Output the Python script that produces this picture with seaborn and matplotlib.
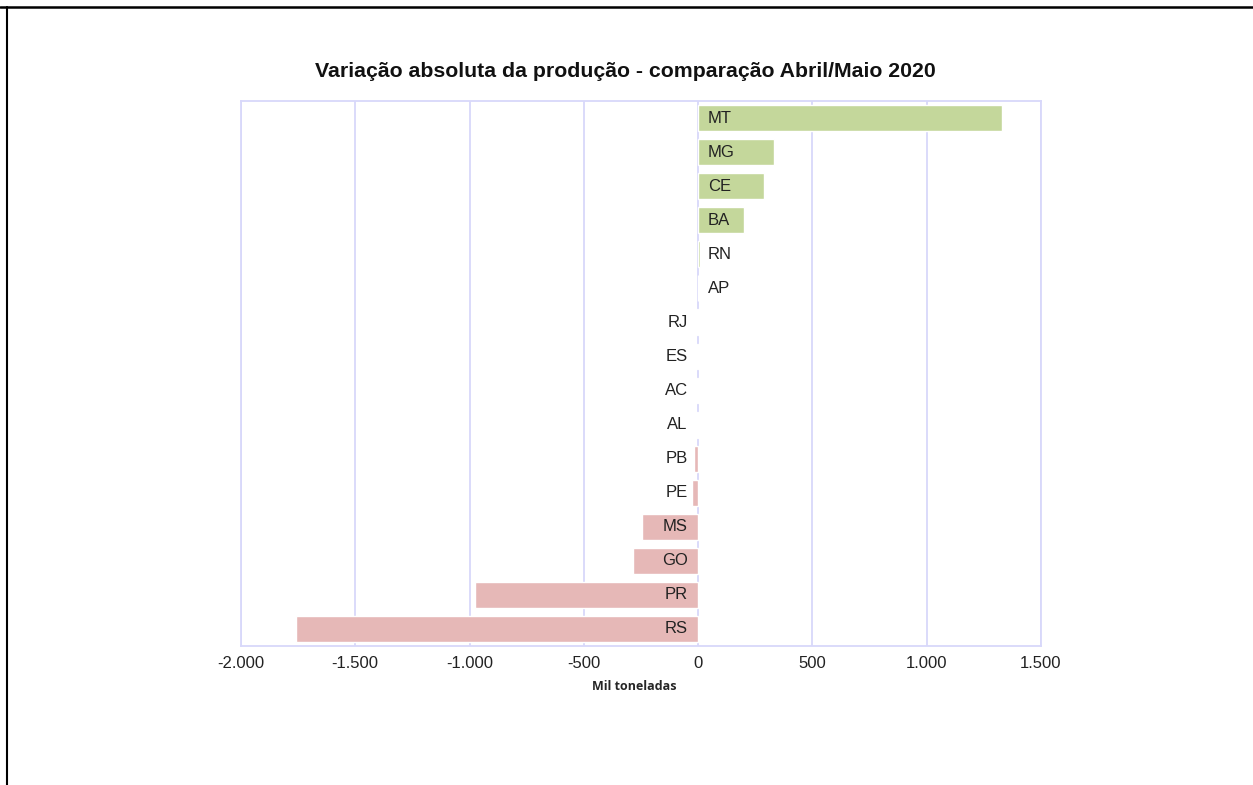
import matplotlib
matplotlib.use("Agg")
import matplotlib.pyplot as plt
from matplotlib.lines import Line2D
from matplotlib.ticker import FuncFormatter, MultipleLocator
import pandas as pd
import seaborn as sns

estados = ["MT", "MG", "CE", "BA", "RN", "AP", "RJ", "ES",
           "AC", "AL", "PB", "PE", "MS", "GO", "PR", "RS"]
variacao = [1330, 333, 290, 200, 10, 1, -4, -5,
            -5, -6, -16, -26, -245, -284, -976, -1758]

df = pd.DataFrame({"estado": estados, "variacao": variacao})
df["sinal"] = ["pos" if v >= 0 else "neg" for v in variacao]

sns.set_style("white")
plt.rcParams["font.family"] = ["Liberation Sans", "DejaVu Sans"]

grid_cor = "#D8D8FA"
fig = plt.figure(figsize=(12.53, 7.85), dpi=100)
ax = fig.add_axes([0.1923, 0.1771, 0.6385, 0.6942])

sns.barplot(data=df, x="variacao", y="estado", hue="sinal", orient="h",
            palette={"pos": "#C4D79B", "neg": "#E6B8B7"}, dodge=False,
            saturation=1, width=0.76, legend=False, ax=ax, zorder=2)

for i, (e, v) in enumerate(zip(estados, variacao)):
    if v >= 0:
        ax.annotate(e, xy=(0, i), xytext=(7, 0), textcoords="offset points",
                    ha="left", va="center", fontsize=12, color="#222222", zorder=3)
    else:
        ax.annotate(e, xy=(0, i), xytext=(-7.5, 0), textcoords="offset points",
                    ha="right", va="center", fontsize=12, color="#222222", zorder=3)

ax.set_xlim(-2000, 1500)
ax.set_ylim(15.5, -0.5)
ax.xaxis.set_major_locator(MultipleLocator(500))
ax.xaxis.set_major_formatter(FuncFormatter(lambda x, p: f"{int(x):,}".replace(",", ".")))
ax.set_yticks([])
ax.set_ylabel("")
ax.grid(axis="x", color=grid_cor, linewidth=1.3, zorder=0)
ax.set_axisbelow(True)
for s in ax.spines.values():
    s.set_color(grid_cor)
    s.set_linewidth(1.3)
ax.tick_params(axis="x", length=0, labelsize=12, labelcolor="#222222", pad=7)
ax.set_xlabel("Mil toneladas", fontsize=9, fontweight="bold",
              family=["Open Sans", "DejaVu Sans"], labelpad=3)
ax.xaxis.set_label_coords(0.491, -0.063)
ax.set_title("Variação absoluta da produção - comparação Abril/Maio 2020",
             fontsize=15.3, fontweight="bold", color="#111111", pad=17, x=0.48)

# moldura da página
fig.add_artist(Line2D([0, 1], [1 - 6.5 / 785] * 2, transform=fig.transFigure,
                      color="black", linewidth=1.8))
fig.add_artist(Line2D([7 / 1253] * 2, [0, 1 - 6.5 / 785], transform=fig.transFigure,
                      color="black", linewidth=1.5))

fig.savefig("out.png", dpi=100)
